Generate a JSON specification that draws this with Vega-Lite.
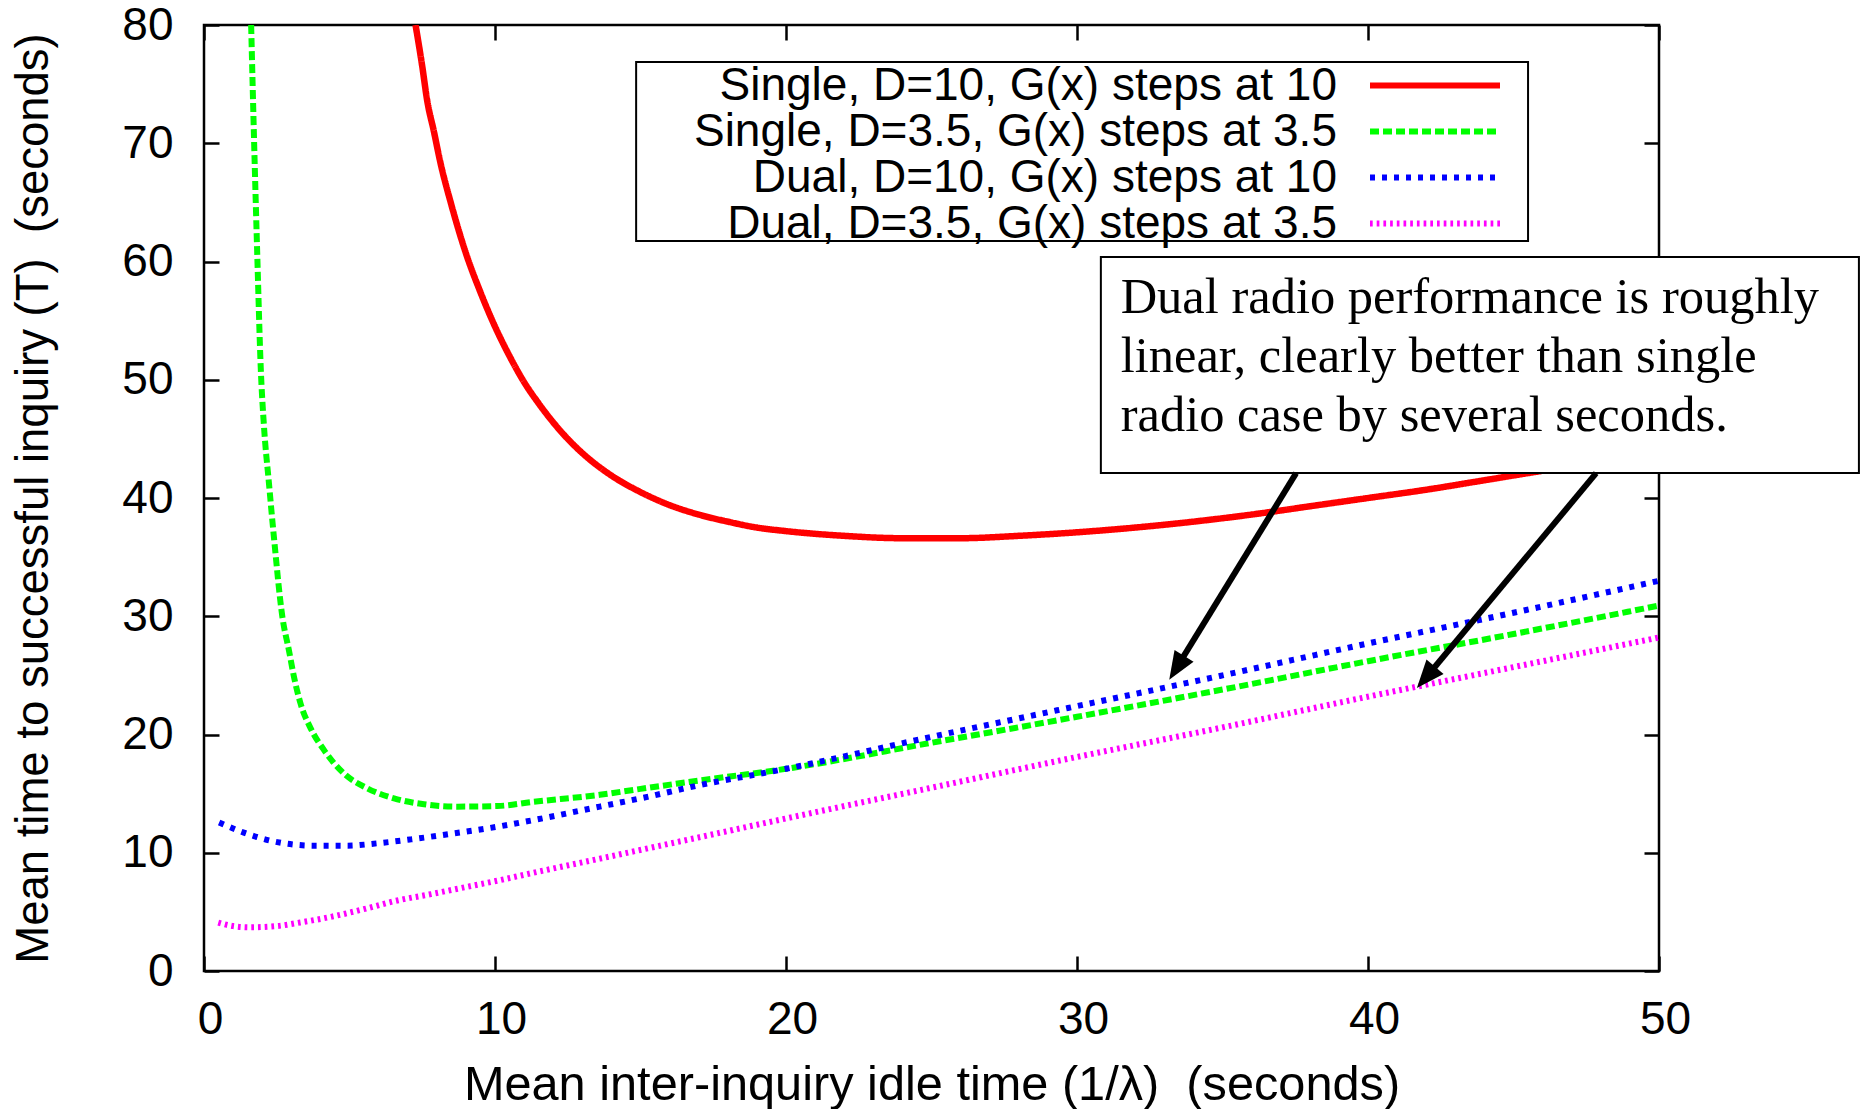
{
  "$schema": "https://vega.github.io/schema/vega-lite/v6.json",
  "width": 1455,
  "height": 946,
  "autosize": {"type": "none"},
  "padding": {"left": 204, "top": 25, "right": 206, "bottom": 138},
  "background": "white",
  "config": {
    "font": "Liberation Sans",
    "view": {"stroke": "black", "strokeWidth": 2.5},
    "axis": {
      "grid": false, "domain": false,
      "tickColor": "black", "tickWidth": 2.5, "tickSize": -15,
      "labelColor": "black", "labelFont": "Liberation Sans", "labelFontSize": 46,
      "titleFont": "Liberation Sans", "titleFontWeight": "normal", "titleColor": "black", "titleFontSize": 47
    }
  },
  "datasets": {
    "curves": [
      {"series": "Single, D=10, G(x) steps at 10", "x": 7.27, "y": 80},
      {"series": "Single, D=10, G(x) steps at 10", "x": 7.5, "y": 76.5},
      {"series": "Single, D=10, G(x) steps at 10", "x": 7.67, "y": 73.6},
      {"series": "Single, D=10, G(x) steps at 10", "x": 7.9, "y": 71.0},
      {"series": "Single, D=10, G(x) steps at 10", "x": 8.13, "y": 68.3},
      {"series": "Single, D=10, G(x) steps at 10", "x": 8.5, "y": 64.8},
      {"series": "Single, D=10, G(x) steps at 10", "x": 9.0, "y": 60.7},
      {"series": "Single, D=10, G(x) steps at 10", "x": 9.5, "y": 57.4},
      {"series": "Single, D=10, G(x) steps at 10", "x": 10.0, "y": 54.5},
      {"series": "Single, D=10, G(x) steps at 10", "x": 10.5, "y": 52.0},
      {"series": "Single, D=10, G(x) steps at 10", "x": 11.0, "y": 49.8},
      {"series": "Single, D=10, G(x) steps at 10", "x": 11.5, "y": 48.0},
      {"series": "Single, D=10, G(x) steps at 10", "x": 12.0, "y": 46.4},
      {"series": "Single, D=10, G(x) steps at 10", "x": 12.5, "y": 45.0},
      {"series": "Single, D=10, G(x) steps at 10", "x": 13.0, "y": 43.8},
      {"series": "Single, D=10, G(x) steps at 10", "x": 14.0, "y": 41.9},
      {"series": "Single, D=10, G(x) steps at 10", "x": 15.0, "y": 40.5},
      {"series": "Single, D=10, G(x) steps at 10", "x": 16.0, "y": 39.4},
      {"series": "Single, D=10, G(x) steps at 10", "x": 17.0, "y": 38.6},
      {"series": "Single, D=10, G(x) steps at 10", "x": 18.0, "y": 38.0},
      {"series": "Single, D=10, G(x) steps at 10", "x": 19.0, "y": 37.5},
      {"series": "Single, D=10, G(x) steps at 10", "x": 20, "y": 37.2},
      {"series": "Single, D=10, G(x) steps at 10", "x": 22, "y": 36.8},
      {"series": "Single, D=10, G(x) steps at 10", "x": 24, "y": 36.6},
      {"series": "Single, D=10, G(x) steps at 10", "x": 26, "y": 36.6},
      {"series": "Single, D=10, G(x) steps at 10", "x": 28, "y": 36.8},
      {"series": "Single, D=10, G(x) steps at 10", "x": 30, "y": 37.1},
      {"series": "Single, D=10, G(x) steps at 10", "x": 32, "y": 37.5},
      {"series": "Single, D=10, G(x) steps at 10", "x": 34, "y": 38.0},
      {"series": "Single, D=10, G(x) steps at 10", "x": 36, "y": 38.6},
      {"series": "Single, D=10, G(x) steps at 10", "x": 38, "y": 39.3},
      {"series": "Single, D=10, G(x) steps at 10", "x": 40, "y": 40.0},
      {"series": "Single, D=10, G(x) steps at 10", "x": 42, "y": 40.7},
      {"series": "Single, D=10, G(x) steps at 10", "x": 44, "y": 41.5},
      {"series": "Single, D=10, G(x) steps at 10", "x": 46, "y": 42.3},
      {"series": "Single, D=10, G(x) steps at 10", "x": 48, "y": 43.0},
      {"series": "Single, D=10, G(x) steps at 10", "x": 50, "y": 43.8},

      {"series": "Single, D=3.5, G(x) steps at 3.5", "x": 1.62, "y": 80},
      {"series": "Single, D=3.5, G(x) steps at 3.5", "x": 1.72, "y": 70.3},
      {"series": "Single, D=3.5, G(x) steps at 3.5", "x": 1.83, "y": 60.6},
      {"series": "Single, D=3.5, G(x) steps at 3.5", "x": 1.95, "y": 51.0},
      {"series": "Single, D=3.5, G(x) steps at 3.5", "x": 2.06, "y": 46.1},
      {"series": "Single, D=3.5, G(x) steps at 3.5", "x": 2.23, "y": 41.3},
      {"series": "Single, D=3.5, G(x) steps at 3.5", "x": 2.41, "y": 36.5},
      {"series": "Single, D=3.5, G(x) steps at 3.5", "x": 2.69, "y": 30.0},
      {"series": "Single, D=3.5, G(x) steps at 3.5", "x": 2.92, "y": 27.1},
      {"series": "Single, D=3.5, G(x) steps at 3.5", "x": 3.09, "y": 24.9},
      {"series": "Single, D=3.5, G(x) steps at 3.5", "x": 3.32, "y": 22.6},
      {"series": "Single, D=3.5, G(x) steps at 3.5", "x": 3.67, "y": 20.5},
      {"series": "Single, D=3.5, G(x) steps at 3.5", "x": 4.12, "y": 18.7},
      {"series": "Single, D=3.5, G(x) steps at 3.5", "x": 4.81, "y": 16.7},
      {"series": "Single, D=3.5, G(x) steps at 3.5", "x": 5.61, "y": 15.45},
      {"series": "Single, D=3.5, G(x) steps at 3.5", "x": 6.53, "y": 14.6},
      {"series": "Single, D=3.5, G(x) steps at 3.5", "x": 7.56, "y": 14.1},
      {"series": "Single, D=3.5, G(x) steps at 3.5", "x": 8.71, "y": 13.9},
      {"series": "Single, D=3.5, G(x) steps at 3.5", "x": 10.08, "y": 13.95},
      {"series": "Single, D=3.5, G(x) steps at 3.5", "x": 11.3, "y": 14.3},
      {"series": "Single, D=3.5, G(x) steps at 3.5", "x": 13.6, "y": 14.9},
      {"series": "Single, D=3.5, G(x) steps at 3.5", "x": 15, "y": 15.4},
      {"series": "Single, D=3.5, G(x) steps at 3.5", "x": 17, "y": 16.1},
      {"series": "Single, D=3.5, G(x) steps at 3.5", "x": 20, "y": 17.1},
      {"series": "Single, D=3.5, G(x) steps at 3.5", "x": 25, "y": 19.3},
      {"series": "Single, D=3.5, G(x) steps at 3.5", "x": 30, "y": 21.5},
      {"series": "Single, D=3.5, G(x) steps at 3.5", "x": 35, "y": 23.8},
      {"series": "Single, D=3.5, G(x) steps at 3.5", "x": 40, "y": 26.2},
      {"series": "Single, D=3.5, G(x) steps at 3.5", "x": 45, "y": 28.5},
      {"series": "Single, D=3.5, G(x) steps at 3.5", "x": 50, "y": 30.9},

      {"series": "Dual, D=10, G(x) steps at 10", "x": 0.52, "y": 12.55},
      {"series": "Dual, D=10, G(x) steps at 10", "x": 1.37, "y": 11.7},
      {"series": "Dual, D=10, G(x) steps at 10", "x": 2.52, "y": 10.9},
      {"series": "Dual, D=10, G(x) steps at 10", "x": 3.78, "y": 10.6},
      {"series": "Dual, D=10, G(x) steps at 10", "x": 4.93, "y": 10.6},
      {"series": "Dual, D=10, G(x) steps at 10", "x": 5.96, "y": 10.8},
      {"series": "Dual, D=10, G(x) steps at 10", "x": 7.1, "y": 11.13},
      {"series": "Dual, D=10, G(x) steps at 10", "x": 8.48, "y": 11.6},
      {"series": "Dual, D=10, G(x) steps at 10", "x": 10.08, "y": 12.2},
      {"series": "Dual, D=10, G(x) steps at 10", "x": 11.3, "y": 12.75},
      {"series": "Dual, D=10, G(x) steps at 10", "x": 13.6, "y": 13.9},
      {"series": "Dual, D=10, G(x) steps at 10", "x": 15, "y": 14.6},
      {"series": "Dual, D=10, G(x) steps at 10", "x": 17, "y": 15.7},
      {"series": "Dual, D=10, G(x) steps at 10", "x": 20, "y": 17.1},
      {"series": "Dual, D=10, G(x) steps at 10", "x": 25, "y": 19.8},
      {"series": "Dual, D=10, G(x) steps at 10", "x": 30, "y": 22.4},
      {"series": "Dual, D=10, G(x) steps at 10", "x": 35, "y": 25.0},
      {"series": "Dual, D=10, G(x) steps at 10", "x": 40, "y": 27.7},
      {"series": "Dual, D=10, G(x) steps at 10", "x": 45, "y": 30.3},
      {"series": "Dual, D=10, G(x) steps at 10", "x": 50, "y": 33.0},

      {"series": "Dual, D=3.5, G(x) steps at 3.5", "x": 0.49, "y": 4.1},
      {"series": "Dual, D=3.5, G(x) steps at 3.5", "x": 1.0, "y": 3.8},
      {"series": "Dual, D=3.5, G(x) steps at 3.5", "x": 1.58, "y": 3.7},
      {"series": "Dual, D=3.5, G(x) steps at 3.5", "x": 2.5, "y": 3.8},
      {"series": "Dual, D=3.5, G(x) steps at 3.5", "x": 3.3, "y": 4.1},
      {"series": "Dual, D=3.5, G(x) steps at 3.5", "x": 4.4, "y": 4.6},
      {"series": "Dual, D=3.5, G(x) steps at 3.5", "x": 5.6, "y": 5.3},
      {"series": "Dual, D=3.5, G(x) steps at 3.5", "x": 6.53, "y": 5.9},
      {"series": "Dual, D=3.5, G(x) steps at 3.5", "x": 7.8, "y": 6.5},
      {"series": "Dual, D=3.5, G(x) steps at 3.5", "x": 9.0, "y": 7.1},
      {"series": "Dual, D=3.5, G(x) steps at 3.5", "x": 10.2, "y": 7.7},
      {"series": "Dual, D=3.5, G(x) steps at 3.5", "x": 11.3, "y": 8.3},
      {"series": "Dual, D=3.5, G(x) steps at 3.5", "x": 13.6, "y": 9.5},
      {"series": "Dual, D=3.5, G(x) steps at 3.5", "x": 17, "y": 11.3},
      {"series": "Dual, D=3.5, G(x) steps at 3.5", "x": 20, "y": 12.9},
      {"series": "Dual, D=3.5, G(x) steps at 3.5", "x": 25, "y": 15.5},
      {"series": "Dual, D=3.5, G(x) steps at 3.5", "x": 30, "y": 18.1},
      {"series": "Dual, D=3.5, G(x) steps at 3.5", "x": 35, "y": 20.6},
      {"series": "Dual, D=3.5, G(x) steps at 3.5", "x": 40, "y": 23.2},
      {"series": "Dual, D=3.5, G(x) steps at 3.5", "x": 45, "y": 25.7},
      {"series": "Dual, D=3.5, G(x) steps at 3.5", "x": 50, "y": 28.2}
    ],
    "frames": [
      {"box": "legend", "left": 14.85, "right": 45.5, "top": 76.87, "bottom": 61.73},
      {"box": "note", "left": 30.82, "right": 56.87, "top": 60.38, "bottom": 42.11}
    ],
    "note": [
      {"label": "Dual radio performance is roughly\nlinear, clearly better than single\nradio case by several seconds.", "px": 31.5, "py": 55.65}
    ],
    "arrows": [
      {"id": "a", "sx": 37.53, "sy": 42.1, "bx": 33.53, "by": 26.08, "tx": 33.17, "ty": 24.64},
      {"id": "b", "sx": 47.84, "sy": 42.1, "bx": 42.13, "by": 25.22, "tx": 41.68, "ty": 23.93}
    ]
  },
  "layer": [
    {
      "data": {"name": "curves"},
      "transform": [{"filter": "datum.series == 'Single, D=10, G(x) steps at 10'"}],
      "mark": {"type": "line", "interpolate": "monotone", "clip": true, "strokeWidth": 6.5},
      "encoding": {
        "x": {
          "field": "x", "type": "quantitative",
          "scale": {"domain": [0, 50], "nice": false, "zero": false},
          "axis": {
            "orient": "bottom", "values": [0, 10, 20, 30, 40, 50],
            "title": "Mean inter-inquiry idle time (1/λ)\u00a0 (seconds)",
            "titleFontSize": 48.7,
            "labelPadding": 41, "labelOffset": 6, "titlePadding": 19, "labelFlush": false
          }
        },
        "y": {
          "field": "y", "type": "quantitative",
          "scale": {"domain": [0, 80], "nice": false},
          "axis": {
            "orient": "left", "values": [0, 10, 20, 30, 40, 50, 60, 70, 80],
            "title": "Mean time to successful inquiry (T)\u00a0 (seconds)",
            "titleFontSize": 45.5,
            "labelPadding": 46, "titlePadding": 64.5, "labelFlush": false
          }
        },
        "color": {
          "field": "series", "type": "nominal",
          "scale": {
            "domain": ["Single, D=10, G(x) steps at 10", "Single, D=3.5, G(x) steps at 3.5", "Dual, D=10, G(x) steps at 10", "Dual, D=3.5, G(x) steps at 3.5"],
            "range": ["#ff0000", "#00ff00", "#0000ff", "#ff00ff"]
          },
          "legend": {
            "title": null, "orient": "none", "legendX": 452, "legendY": 37.5,
            "direction": "vertical",
            "labelAlign": "right", "labelOffset": -121, "symbolOffset": 756,
            "symbolType": "M-5,0L5,0", "symbolSize": 676, "symbolStrokeWidth": 6,
            "labelFont": "Liberation Sans", "labelFontSize": 46, "labelColor": "black", "labelLimit": 2000,
            "rowPadding": 0, "padding": 0
          }
        },
        "strokeDash": {
          "field": "series", "type": "nominal",
          "scale": {
            "domain": ["Single, D=10, G(x) steps at 10", "Single, D=3.5, G(x) steps at 3.5", "Dual, D=10, G(x) steps at 10", "Dual, D=3.5, G(x) steps at 3.5"],
            "range": [[1, 0], [9, 4], [5, 7], [2.7, 4]]
          },
          "legend": {
            "title": null, "orient": "none", "legendX": 452, "legendY": 37.5,
            "direction": "vertical",
            "labelAlign": "right", "labelOffset": -121, "symbolOffset": 756,
            "symbolType": "M-5,0L5,0", "symbolSize": 676, "symbolStrokeWidth": 6,
            "labelFont": "Liberation Sans", "labelFontSize": 46, "labelColor": "black", "labelLimit": 2000,
            "rowPadding": 0, "padding": 0
          }
        }
      }
    },
    {
      "data": {"name": "curves"},
      "transform": [{"filter": "datum.series != 'Single, D=10, G(x) steps at 10'"}],
      "mark": {"type": "line", "interpolate": "monotone", "clip": true, "strokeWidth": 6},
      "encoding": {
        "x": {"field": "x", "type": "quantitative", "axis": null},
        "y": {"field": "y", "type": "quantitative", "axis": null},
        "color": {"field": "series", "type": "nominal"},
        "strokeDash": {"field": "series", "type": "nominal"}
      }
    },
    {
      "data": {"name": "frames"},
      "mark": {"type": "rect", "fill": "white", "stroke": "black", "strokeWidth": 2, "clip": false},
      "encoding": {
        "x": {"field": "left", "type": "quantitative", "axis": {"orient": "top", "values": [0, 10, 20, 30, 40, 50], "labels": false, "title": null}},
        "x2": {"field": "right"},
        "y": {"field": "top", "type": "quantitative", "axis": {"orient": "right", "values": [0, 10, 20, 30, 40, 50, 60, 70, 80], "labels": false, "title": null}},
        "y2": {"field": "bottom"}
      }
    },
    {
      "data": {"name": "note"},
      "mark": {"type": "text", "align": "left", "baseline": "alphabetic", "font": "Liberation Serif", "fontSize": 50.5, "lineBreak": "\n", "lineHeight": 59, "color": "black", "clip": false},
      "encoding": {
        "x": {"field": "px", "type": "quantitative", "axis": null},
        "y": {"field": "py", "type": "quantitative", "axis": null},
        "text": {"field": "label"}
      }
    },
    {
      "data": {"name": "arrows"},
      "mark": {"type": "rule", "color": "black", "strokeWidth": 6, "clip": false},
      "encoding": {
        "x": {"field": "sx", "type": "quantitative", "axis": null},
        "y": {"field": "sy", "type": "quantitative", "axis": null},
        "x2": {"field": "bx"},
        "y2": {"field": "by"}
      }
    },
    {
      "data": {"name": "arrows"},
      "transform": [{"filter": "datum.id == 'a'"}],
      "mark": {"type": "point", "shape": "M0,0L-0.8,2L0.8,2Z", "size": 784, "angle": 211.9, "filled": true, "fill": "black", "strokeWidth": 0, "opacity": 1, "clip": false},
      "encoding": {
        "x": {"field": "tx", "type": "quantitative", "axis": null},
        "y": {"field": "ty", "type": "quantitative", "axis": null}
      }
    },
    {
      "data": {"name": "arrows"},
      "transform": [{"filter": "datum.id == 'b'"}],
      "mark": {"type": "point", "shape": "M0,0L-0.8,2L0.8,2Z", "size": 784, "angle": 220.4, "filled": true, "fill": "black", "strokeWidth": 0, "opacity": 1, "clip": false},
      "encoding": {
        "x": {"field": "tx", "type": "quantitative", "axis": null},
        "y": {"field": "ty", "type": "quantitative", "axis": null}
      }
    }
  ],
  "resolve": {"axis": {"x": "independent", "y": "independent"}}
}
